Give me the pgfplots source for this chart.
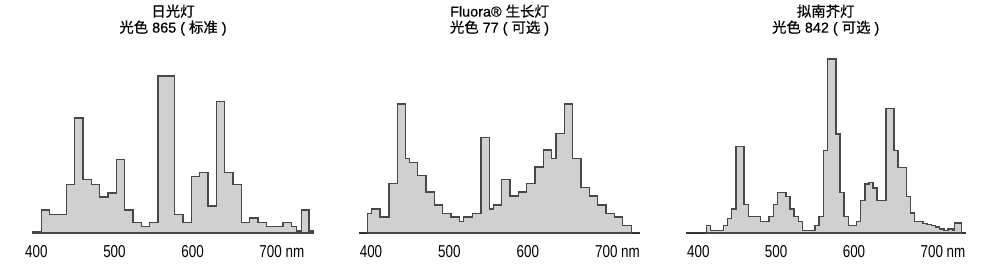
\documentclass[border=0pt]{standalone}
\usepackage{graphicx}
\usepackage{pgfplots}
\pgfplotsset{compat=1.18}
\usepackage{fontspec}
\setmainfont{Liberation Sans}
\newfontfamily\cjk{Noto Sans CJK SC}[FakeBold=0.5]
\newfontfamily\latt{Liberation Sans}[FakeBold=0.5]
\definecolor{fillgray}{HTML}{D0D0D0}
\definecolor{linegray}{HTML}{484848}
\definecolor{basegray}{HTML}{333333}
\newcommand{\tl}[1]{\scalebox{0.78}[1]{#1}}
\pgfplotsset{
  spec/.style={
    scale only axis, width=140pt, height=90pt,
    ymin=0, ymax=540, clip=false,
    axis x line=bottom, axis y line=none,
    x axis line style={-, draw=basegray, line width=0.8pt},
    xtick={400,500,600,700},
    xticklabels={\tl{400},\tl{500},\tl{600},{\tl{700\rlap{ nm}}}},
    major tick length=0pt,
    /pgf/number format/assume math mode=true,
    xticklabel style={font=\fontsize{8.6}{9}\selectfont, inner sep=0pt, anchor=north, yshift=-6pt},
    title style={at={(0.5,1)}, anchor=south, yshift=2.5pt, inner sep=0pt, align=center,
      font=\fontsize{7.2}{8}\selectfont\latt},
  },
  hist/.style={const plot, fill=fillgray, draw=linegray, line width=0.7pt, mark=none},
}
\begin{document}
\begin{tikzpicture}
\path (0,0) rectangle (500pt,135.5pt);
\begin{axis}[spec, at={(16.5pt,19pt)}, anchor=south west, xmin=395.7, xmax=754.2,
  title={{\cjk 日光灯}\\{\cjk 光色} 865 ( {\cjk 标准} )}]
\addplot[hist] coordinates {
(395.7,5) (406.4,69) (417.1,56) (438.4,145) (449.1,345) (459.8,160) (470.4,145) (481.1,108) (491.8,120) (502.4,220) (513.1,69) (523.8,31) (534.4,20) (545.1,31) (555.8,471) (577.1,56) (587.8,31) (598.5,170) (609.1,182) (619.8,81) (630.5,395) (641.1,182) (651.8,145) (662.5,31) (673.1,45) (683.8,31) (694.5,20) (715.8,31) (726.5,20) (732.9,6) (739.3,69) (749.1,6) (754.2,6)
} \closedcycle;
\end{axis}
\begin{axis}[spec, at={(179.5pt,19pt)}, anchor=south west, width=140.5pt, xmin=384.7, xmax=743.0,
  title={Fluora® {\cjk 生长灯}\\{\cjk 光色} 77 ( {\cjk 可选} )}]
\addplot[hist] coordinates {
(395.8,59) (400.8,72) (411.5,48) (423.0,148) (433.6,387) (444.2,224) (448.9,211) (459.5,173) (470.1,123) (480.7,84) (491.4,59) (502.0,48) (512.6,34) (517.7,48) (529.6,59) (540.2,286) (550.9,72) (556.0,84) (566.6,161) (577.2,111) (587.8,123) (598.5,148) (609.1,198) (619.7,249) (630.3,224) (635.9,299) (646.5,387) (657.1,224) (667.7,136) (678.4,111) (689.0,84) (699.6,59) (710.2,48) (720.9,23) (732.3,0)
} \closedcycle;
\end{axis}
\begin{axis}[spec, at={(342.85pt,19pt)}, anchor=south west, xmin=383.7, xmax=743.6,
  title={{\cjk 拟南芥灯}\\{\cjk 光色} 842 ( {\cjk 可选} )}]
\addplot[hist] coordinates {
(410.7,22) (415.8,8) (432.1,22) (437.2,44) (442.8,72) (448.4,260) (458.6,85) (464.2,49) (480.0,35) (490.7,49) (496.3,85) (501.4,122) (512.5,110) (517.7,72) (522.8,49) (528.4,35) (533.9,8) (549.8,22) (554.9,49) (560.5,247) (566.0,522) (576.7,297) (581.9,122) (587.0,49) (592.6,22) (603.3,35) (608.4,97) (614.0,147) (619.1,152) (624.6,135) (629.8,97) (640.9,373) (651.6,247) (656.7,197) (667.4,110) (672.6,60) (678.1,35) (688.8,28) (694.0,25) (699.5,22) (705.1,18) (710.2,12) (715.8,8) (720.9,12) (727.3,8) (729.5,30) (738.0,0)
} \closedcycle;
\end{axis}
\end{tikzpicture}
\end{document}
